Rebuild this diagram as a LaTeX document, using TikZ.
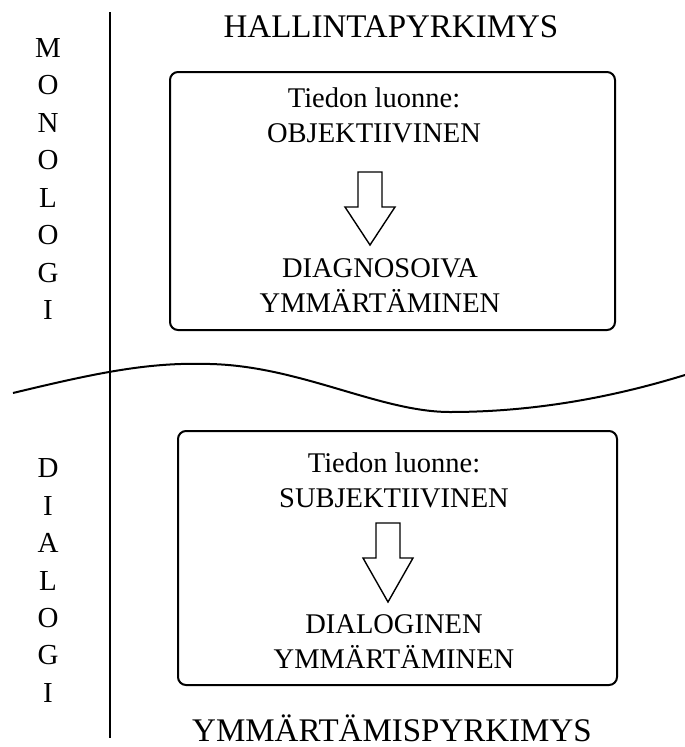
\documentclass[tikz,border=0pt]{standalone}
\usepackage{fontspec}
\setmainfont{Liberation Serif}

\begin{document}
\begin{tikzpicture}[x=1pt, y=-1pt,
        panel/.style={line width=2pt, rounded corners=8pt},
        blockarrow/.style={line width=1.4pt, line join=miter},
        boxtext/.style={align=center, font=\fontsize{28.5}{35}\selectfont, inner sep=0pt},
        heading/.style={font=\fontsize{33}{36}\selectfont, inner sep=0pt, anchor=base},
        side/.style={font=\fontsize{29}{30}\selectfont, inner sep=0pt}]
        \useasboundingbox (0, 0) rectangle (685, 747);

        % axes
        \draw[line width=1.5pt] (110, 12) -- (110, 738);
        \draw[line width=2pt] (13, 393) .. controls (100, 372) and (150, 362) .. (210, 364)
            .. controls (300, 366) and (380, 412) .. (450, 412)
            .. controls (540, 412) and (620, 395) .. (685, 375);

        \node[heading] (hallinta) at (391, 37) {HALLINTAPYRKIMYS};
        \node[heading] (ymmarrys) at (392, 741) {YMMÄRTÄMISPYRKIMYS};

        \foreach \l [count=\i] in {M,O,N,O,L,O,G,I}
            \node[side] (mono\i) at (48, 10.5 + 37.5 * \i) {\l};
        \foreach \l [count=\i] in {D,I,A,L,O,G,I}
            \node[side] (dia\i) at (48, 430.5 + 37.5 * \i) {\l};

        % monologi
        \draw[panel] (170, 72) rectangle (615, 330);
        \node[boxtext, anchor=base] (tieto1) at (374, 142) {Tiedon luonne:\\OBJEKTIIVINEN};
        \node[boxtext, anchor=base] (tulos1) at (380, 312) {DIAGNOSOIVA\\YMMÄRTÄMINEN};

        % dialogi
        \draw[panel] (178, 431) rectangle (617, 685);
        \node[boxtext, anchor=base] (tieto2) at (394, 507) {Tiedon luonne:\\SUBJEKTIIVINEN};
        \node[boxtext, anchor=base] (tulos2) at (394, 668) {DIALOGINEN\\YMMÄRTÄMINEN};

        \foreach \x/\y/\h/\t in {370/172/35/73, 388/523/35/79}
            \draw[blockarrow, shift={(\x, \y)}] (-12, 0) -- (12, 0) -- (12, \h) -- (25, \h)
                -- (0, \t) -- (-25, \h) -- (-12, \h) -- cycle;

    \end{tikzpicture}
\end{document}
